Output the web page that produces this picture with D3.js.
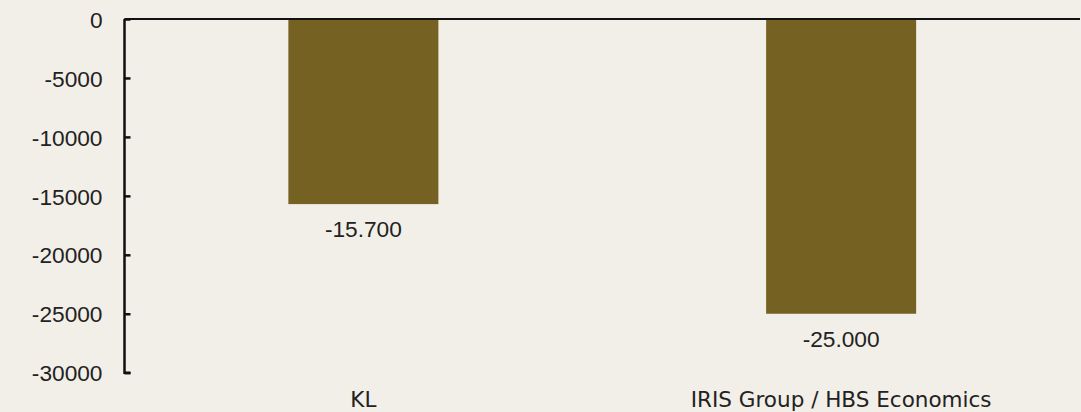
<!DOCTYPE html>
<html><head><meta charset="utf-8">
<script src="https://cdn.jsdelivr.net/npm/d3@7"></script>
<style>
html,body{margin:0;padding:0;background:#f2efe8;}
svg{display:block;}
</style></head>
<body>
<script>
const categories = ["KL", "IRIS Group / HBS Economics"];
const values = [-15700, -25000];
const valueLabels = ["-15.700", "-25.000"];
const yTicks = [0, -5000, -10000, -15000, -20000, -25000, -30000];

const W = 1081, H = 412;
const x0 = 124.5, x1 = 1080, yTop = 19, yBot = 372.7;

const svg = d3.select("body").append("svg").attr("width", W).attr("height", H);
svg.append("rect").attr("width", W).attr("height", H).attr("fill", "#f2efe8");

const x = d3.scaleBand().domain(categories).range([x0, x1]).paddingInner(0.686).paddingOuter(0.343);
const y = d3.scaleLinear().domain([-30000, 0]).range([yBot, yTop]);

const fontNum = "Liberation Sans, Arial, sans-serif";
const fontCat = "DejaVu Sans, sans-serif";

// bars
svg.selectAll("rect.bar").data(values).enter().append("rect")
  .attr("class", "bar")
  .attr("x", (d, i) => x(categories[i]))
  .attr("width", x.bandwidth())
  .attr("y", y(0))
  .attr("height", d => y(d) - y(0))
  .attr("fill", "#756223");

// y axis
const yAxis = d3.axisRight(y).tickValues(yTicks).tickSize(6).tickFormat(d => String(d));
const g = svg.append("g").attr("transform", `translate(${x0},0)`).call(yAxis);
g.select(".domain").attr("stroke", "#111").attr("stroke-width", 2.5).attr("d", `M6,${yBot}H0V${yTop}`);
g.selectAll(".tick line").attr("stroke", "#111").attr("stroke-width", 2.5);
g.selectAll(".tick text")
  .attr("x", -22).attr("text-anchor", "end").attr("dy", "0.36em")
  .attr("fill", "#222").attr("font-family", fontNum).attr("font-size", 22.7);

// top baseline
svg.append("line").attr("x1", x0).attr("x2", x1).attr("y1", y(0)).attr("y2", y(0))
  .attr("stroke", "#111").attr("stroke-width", 2);

// value labels
svg.selectAll("text.val").data(values).enter().append("text")
  .attr("class", "val")
  .attr("x", (d, i) => x(categories[i]) + x.bandwidth() / 2)
  .attr("y", d => y(d) + 33)
  .attr("text-anchor", "middle")
  .attr("fill", "#222").attr("font-family", fontNum).attr("font-size", 22.7)
  .text((d, i) => valueLabels[i]);

// category labels
svg.selectAll("text.cat").data(categories).enter().append("text")
  .attr("class", "cat")
  .attr("x", d => x(d) + x.bandwidth() / 2)
  .attr("y", 407)
  .attr("text-anchor", "middle")
  .attr("fill", "#222").attr("font-family", fontCat).attr("font-size", 21.5)
  .text(d => d);
</script>
</body></html>
